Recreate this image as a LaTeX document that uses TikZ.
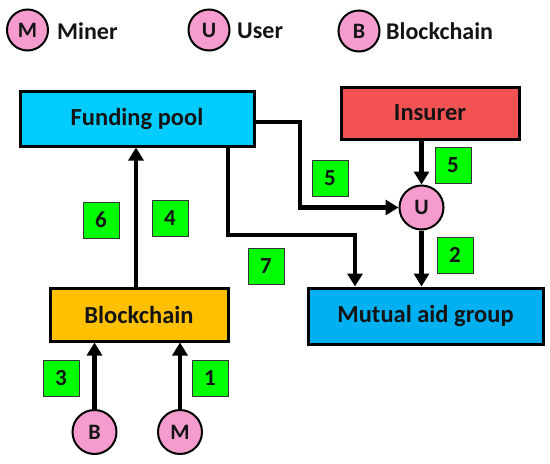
\documentclass[tikz,border=0pt]{standalone}
\usepackage{fontspec}
\setmainfont{Carlito}
\usetikzlibrary{arrows.meta,calc}
\definecolor{fundc}{RGB}{0,204,255}
\definecolor{mutc}{RGB}{0,176,240}
\definecolor{insc}{RGB}{242,82,82}
\definecolor{blkc}{RGB}{255,192,0}
\definecolor{pinkc}{RGB}{245,155,205}
\definecolor{numc}{RGB}{0,255,0}
\definecolor{txtc}{RGB}{20,20,20}
\begin{document}
\begin{tikzpicture}[x=1pt,y=-1pt,
  box/.style={draw=black,line width=3pt,rectangle,inner sep=0pt,font=\fontsize{24.5}{26}\selectfont\bfseries,text=txtc},
  circ/.style={draw=black,line width=2pt,circle,fill=pinkc,inner sep=0pt,minimum size=44pt,font=\fontsize{22}{24}\selectfont\bfseries,text=txtc},
  legtxt/.style={anchor=west,inner sep=0pt,font=\fontsize{24}{26}\selectfont\bfseries,text=txtc},
  num/.style={draw=black!80,line width=1pt,rectangle,fill=numc,minimum size=36pt,inner sep=0pt,font=\fontsize{23}{25}\selectfont\bfseries,text=txtc},
  arr/.style={line width=4.5pt,-{Triangle[length=13pt,width=15pt]}},
  ln/.style={line width=4.5pt}]
\useasboundingbox (0,0) rectangle (550,464);
% legend
\node[circ,minimum size=41pt] (lM) at (27.5,30) {M};
\node[legtxt] (tM) at (57,31) {Miner};
\node[circ,minimum size=41pt] (lU) at (209,30) {U};
\node[legtxt] (tU) at (237,31) {User};
\node[circ,minimum size=41pt] (lB) at (359,31) {B};
\node[legtxt] (tB) at (386,31) {Blockchain};
% boxes
\node[box,fill=fundc,minimum width=234pt,minimum height=55pt] (fund) at (137,118.5) {Funding pool};
\node[box,fill=insc,minimum width=178pt,minimum height=52pt] (ins) at (430,113) {Insurer};
\node[box,fill=mutc,minimum width=235pt,minimum height=56pt] (mut) at (425.5,316) {Mutual aid group};
\node[box,fill=blkc,minimum width=178pt,minimum height=53pt] (blk) at (139,314.5) {Blockchain};
\node[circ] (U) at (421.5,207.5) {U};
\node[circ] (B) at (94.5,432) {B};
\node[circ] (M) at (180,432) {M};
% connectors
\coordinate (c4) at (136,0);
\coordinate (c5) at (300,207.5);
\coordinate (c5s) at (0,122);
\coordinate (c7) at (228,0);
\coordinate (c7b) at (355,0);
\coordinate (c7y) at (0,235);
\draw[arr] (blk.north -| c4) -- (fund.south -| c4);
\draw[arr] (B.north) -- (B.north |- blk.south);
\draw[arr] (M.north) -- (M.north |- blk.south);
\draw[arr] (U.north |- ins.south) -- (U.north);
\draw[arr] (fund.east |- c5s) -| (c5) -- (U.west);
\draw[arr] (fund.south -| c7) |- (c7y -| c7b) -- (mut.north -| c7b);
\draw[arr] (U.south) -- (U.south |- mut.north);
% numbers
\node[num] (n6) at (101,220) {6};
\node[num] (n4) at (170,218) {4};
\node[num] (n7) at (266,266) {7};
\node[num] (n5a) at (330,178) {5};
\node[num] (n5b) at (453,165) {5};
\node[num] (n2) at (455,255) {2};
\node[num] (n3) at (61,378) {3};
\node[num] (n1) at (210,378) {1};
\end{tikzpicture}
\end{document}
